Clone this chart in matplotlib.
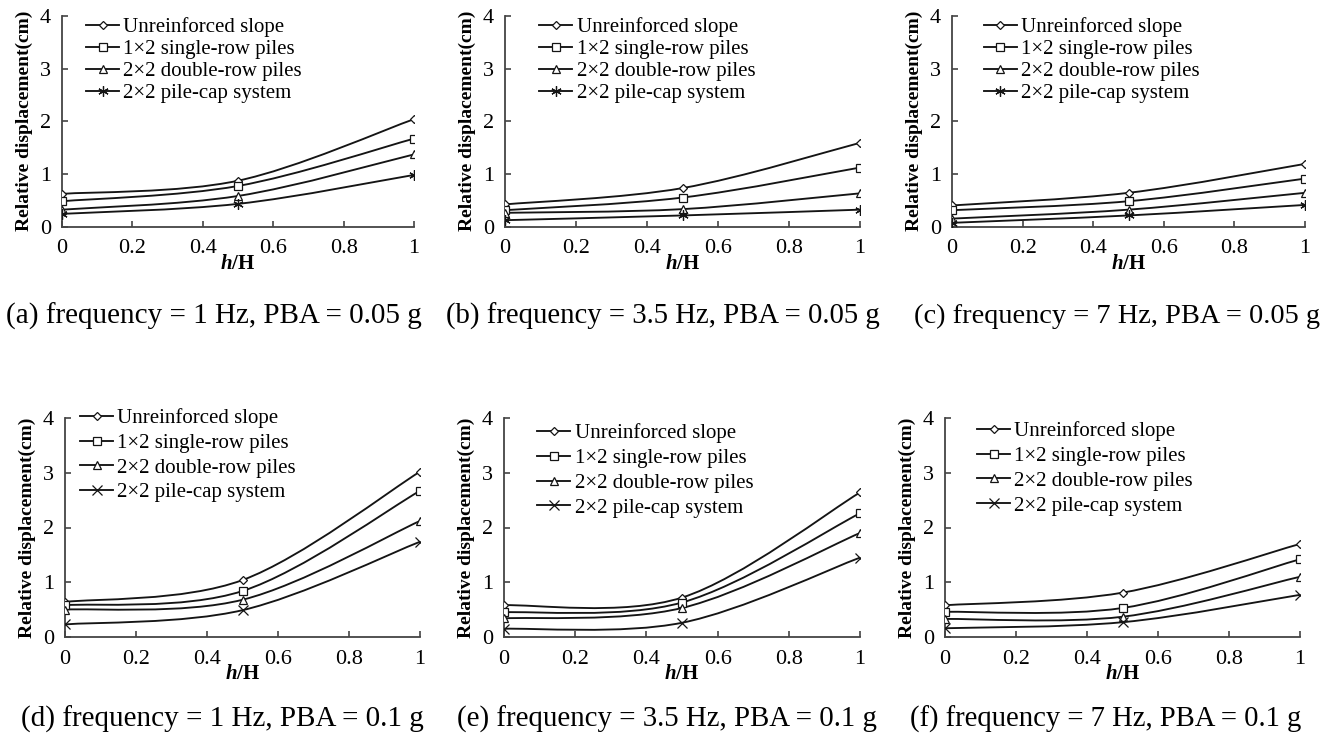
# 不同频率、不同PBA下各加固方式的相对位移沿高度分布

from matplotlib import pyplot as plt
from matplotlib.path import Path
from matplotlib.patches import PathPatch
import numpy as np

plt.rcParams['font.family'] = ['Liberation Serif', 'DejaVu Serif']
plt.rcParams['mathtext.fontset'] = 'custom'
plt.rcParams['mathtext.it'] = 'Liberation Serif:italic:bold'
plt.rcParams['mathtext.rm'] = 'Liberation Serif:bold'

h_ratio = [0, 0.5, 1]
series_names = ['Unreinforced slope', '1×2 single-row piles',
                '2×2 double-row piles', '2×2 pile-cap system']

# 相对位移 (cm)，每组依次为: 未加固, 单排桩, 双排桩, 桩帽体系
disp_a = [[0.62, 0.87, 2.04], [0.48, 0.77, 1.67], [0.32, 0.58, 1.37], [0.24, 0.43, 0.98]]
disp_b = [[0.42, 0.73, 1.59], [0.31, 0.55, 1.12], [0.26, 0.33, 0.63], [0.12, 0.21, 0.32]]
disp_c = [[0.40, 0.64, 1.19], [0.31, 0.48, 0.91], [0.15, 0.32, 0.64], [0.07, 0.21, 0.41]]
disp_d = [[0.64, 1.04, 3.02], [0.58, 0.84, 2.67], [0.50, 0.68, 2.12], [0.23, 0.49, 1.74]]
disp_e = [[0.58, 0.72, 2.64], [0.45, 0.63, 2.26], [0.34, 0.53, 1.90], [0.15, 0.26, 1.45]]
disp_f = [[0.58, 0.81, 1.70], [0.46, 0.53, 1.42], [0.33, 0.37, 1.10], [0.16, 0.27, 0.77]]

captions = ['(a) frequency = 1 Hz, PBA = 0.05 g', '(b) frequency = 3.5 Hz, PBA = 0.05 g',
            '(c) frequency = 7 Hz, PBA = 0.05 g', '(d) frequency = 1 Hz, PBA = 0.1 g',
            '(e) frequency = 3.5 Hz, PBA = 0.1 g', '(f) frequency = 7 Hz, PBA = 0.1 g']

W, H = 1328, 745
ink = '#141414'


def smooth_path(xs, ys):
    # Excel风格的平滑曲线 (Catmull-Rom -> Bezier)
    p = np.column_stack([xs, ys]).astype(float)
    n = len(p)
    verts = [p[0]]
    codes = [Path.MOVETO]
    for i in range(n - 1):
        p_prev = p[i - 1] if i > 0 else p[i]
        p_next = p[i + 2] if i + 2 < n else p[i + 1]
        c1 = p[i] + (p[i + 1] - p_prev) / 6
        c2 = p[i + 1] - (p_next - p[i]) / 6
        verts += [c1, c2, p[i + 1]]
        codes += [Path.CURVE4] * 3
    return Path(verts, codes)


def draw_panel(rect, data, last_marker, leg_anchor, leg_space, caption, cap_xy, cap_fs):
    l, t, r, b = rect
    ax = fig.add_axes([l / W, 1 - b / H, (r - l) / W, (b - t) / H])
    markers = [('D', 4), ('s', 6), ('^', 6), last_marker]
    for ys, name, (m, ms) in zip(data, series_names, markers):
        ax.add_patch(PathPatch(smooth_path(h_ratio, ys), fill=False,
                               edgecolor=ink, lw=1.35, zorder=2))
        ax.plot(h_ratio, ys, linestyle='none', lw=1.35, color=ink, marker=m,
                markersize=ms, markerfacecolor='white', markeredgecolor=ink,
                markeredgewidth=0.9, label=name, zorder=3)
    ax.set_xlim(0, 1)
    ax.set_ylim(0, 4)
    ax.set_xticks([0, 0.2, 0.4, 0.6, 0.8, 1])
    ax.set_xticklabels(['0', '0.2', '0.4', '0.6', '0.8', '1'])
    ax.set_yticks([0, 1, 2, 3, 4])
    ax.tick_params(direction='in', length=4, width=1.2, color='#444444',
                   labelsize=16, pad=9)
    ax.tick_params(axis='y', pad=8)
    for s in ['top', 'right']:
        ax.spines[s].set_visible(False)
    for s in ['left', 'bottom']:
        ax.spines[s].set_color('#444444')
        ax.spines[s].set_linewidth(1.3)
    ax.set_ylabel('Relative displacement(cm)', fontsize=14, fontweight='bold', labelpad=5)
    ax.set_xlabel('$h$/H', fontsize=15, fontweight='bold', labelpad=-3)
    ax.patch.set_alpha(0)

    handles, labels = ax.get_legend_handles_labels()
    for hd in handles:
        hd.set_linestyle('-')
    ax.legend(handles, labels, loc='upper left', bbox_to_anchor=leg_anchor,
              frameon=False, fontsize=15, handlelength=1.6, handletextpad=0.2,
              labelspacing=leg_space, borderpad=0, borderaxespad=0)
    for hd in handles:
        hd.set_linestyle('none')
    fig.text(cap_xy[0] / W, 1 - cap_xy[1] / H, caption, fontsize=cap_fs,
             ha='center', va='center')


fig = plt.figure(figsize=(W / 100, H / 100), dpi=100)

star = ((6, 2, 0), 7.5)
cross = ('x', 7)
draw_panel((62, 16, 414, 226.5), disp_a, star, (0.068, 0.995), 0.12, captions[0], (214, 316), 21)
draw_panel((505, 16, 860, 226.5), disp_b, star, (0.096, 0.995), 0.12, captions[1], (663, 316), 20.7)
draw_panel((952, 16, 1305, 226.5), disp_c, star, (0.09, 0.995), 0.12, captions[2], (1117, 316), 20.4)
draw_panel((65, 418, 420, 637), disp_d, cross, (0.042, 1.045), 0.25, captions[3], (222, 719), 21)
draw_panel((504, 418, 860, 637), disp_e, cross, (0.093, 0.975), 0.25, captions[4], (667, 719), 20.8)
draw_panel((945, 418, 1300, 637), disp_f, cross, (0.09, 0.985), 0.25, captions[5], (1106, 719), 20.6)

plt.savefig('out.png', dpi=100)
